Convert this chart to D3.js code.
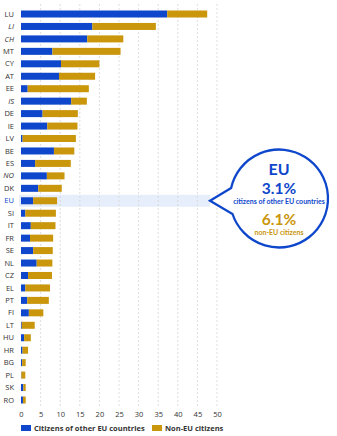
<!DOCTYPE html>
<html><head><meta charset="utf-8">
<script src="https://cdn.jsdelivr.net/npm/d3@7"></script>
<style>html,body{margin:0;padding:0;background:#fff;}svg{display:block;font-family:"Open Sans",sans-serif;}</style>
</head><body>
<svg id="c" width="337" height="436"></svg>
<script>
const countries = ["LU","LI","CH","MT","CY","AT","EE","IS","DE","IE","LV","BE","ES","NO","DK","EU","SI","IT","FR","SE","NL","CZ","EL","PT","FI","LT","HU","HR","BG","PL","SK","RO"];
const euCitizens = [37.3,18.2,16.9,8.0,10.2,9.7,1.7,12.8,5.5,6.7,0.4,8.4,3.6,6.6,4.4,3.1,1.1,2.5,2.3,3.1,4.0,1.8,1.1,1.6,2.0,0.2,0.8,0.4,0.3,0.1,0.6,0.5];
const nonEuCitizens = [10.2,16.2,9.2,17.4,9.8,9.2,15.6,4.0,9.0,7.7,13.6,5.2,9.1,4.5,6.0,6.1,7.8,6.3,5.9,5.0,4.0,6.1,6.3,5.5,3.7,3.3,1.7,1.4,0.9,1.0,0.6,0.7];
const nonEuMembers = ["LI","CH","IS","NO"];
const xTicks = [0,5,10,15,20,25,30,35,40,45,50];
const seriesNames = ["Citizens of other EU countries","Non-EU citizens"];
const calloutTitle = "EU";
const calloutValues = ["3.1%","6.1%"];
const calloutLabels = ["citizens of other EU countries","non-EU citizens"];

const BLUE = "#0e47cb", GOLD = "#c9960c";
const svg = d3.select("#c");
const x = d3.scaleLinear().domain([0,50]).range([21,217]);
const y = d3.scalePoint().domain(countries).range([14,400]);
const bh = 7;

// EU highlight band
svg.append("rect").attr("x",19).attr("y",y("EU")-6).attr("width",210-19).attr("height",12).attr("fill","#e6eefb");

// gridlines
svg.append("g").selectAll("line").data(xTicks.filter(d=>d>0)).join("line")
  .attr("x1",d=>x(d)).attr("x2",d=>x(d)).attr("y1",4).attr("y2",408)
  .attr("stroke","#d4d4d4").attr("stroke-width",0.8).attr("stroke-dasharray","2,2");

// bars
const rows = countries.map((c,i)=>({c, a:euCitizens[i], b:nonEuCitizens[i]}));
svg.append("g").selectAll("rect").data(rows).join("rect")
  .attr("x",d=>x(0)).attr("y",d=>y(d.c)-bh/2).attr("width",d=>x(d.a)-x(0)).attr("height",bh).attr("fill",BLUE);
svg.append("g").selectAll("rect").data(rows).join("rect")
  .attr("x",d=>x(d.a)).attr("y",d=>y(d.c)-bh/2).attr("width",d=>x(d.a+d.b)-x(d.a)).attr("height",bh).attr("fill",GOLD);

// y labels
svg.append("g").selectAll("text").data(countries).join("text")
  .attr("x",14).attr("y",d=>y(d)).attr("dy","0.35em").attr("text-anchor","end")
  .attr("font-size",7.5).attr("fill",d=>d==="EU"?BLUE:"#333")
  .attr("font-style",d=>nonEuMembers.includes(d)?"italic":"normal")
  .text(d=>d);

// x axis
const ax = svg.append("g").attr("transform","translate(0,410)")
  .call(d3.axisBottom(x).tickValues(xTicks).tickSize(0).tickPadding(2));
ax.select(".domain").remove();
ax.selectAll("text").attr("font-size",7.5).attr("fill","#333").attr("font-family","Open Sans, sans-serif");

// legend
const leg = svg.append("g");
const legX = [21,152];
[BLUE,GOLD].forEach((col,i)=>{
  leg.append("rect").attr("x",legX[i]).attr("y",425).attr("width",10).attr("height",6).attr("fill",col);
  leg.append("text").attr("x",legX[i]+13).attr("y",428).attr("dy","0.35em").attr("font-size",7.5)
    .attr("font-weight","bold").attr("fill","#333").text(seriesNames[i]);
});

// callout bubble
const cx=279, cy=198.5, r=49;
const a1 = Math.atan2(188-cy, -Math.sqrt(r*r-(188-cy)**2));
const a2 = Math.atan2(214-cy, -Math.sqrt(r*r-(214-cy)**2));
const p = d3.path();
p.moveTo(cx+r*Math.cos(a1), cy+r*Math.sin(a1));
p.arc(cx,cy,r,a1,a2,false);
p.lineTo(210,y("EU"));
p.closePath();
svg.append("path").attr("d",p.toString()).attr("fill","#fff").attr("stroke",BLUE).attr("stroke-width",2.3).attr("stroke-linejoin","miter");

const tg = svg.append("g").attr("text-anchor","middle").attr("font-weight","bold").attr("font-family","Lato, sans-serif");
tg.append("text").attr("x",cx).attr("y",169.5).attr("dy","0.35em").attr("font-size",16).attr("fill",BLUE).text(calloutTitle);
tg.append("text").attr("x",cx).attr("y",188.5).attr("dy","0.35em").attr("font-size",15.5).attr("fill",BLUE).text(calloutValues[0]);
tg.append("text").attr("x",cx).attr("y",201.5).attr("dy","0.35em").attr("font-size",7).attr("fill",BLUE).text(calloutLabels[0]);
tg.append("text").attr("x",cx).attr("y",219.5).attr("dy","0.35em").attr("font-size",15.5).attr("fill",GOLD).text(calloutValues[1]);
tg.append("text").attr("x",cx).attr("y",232.5).attr("dy","0.35em").attr("font-size",7).attr("fill",GOLD).text(calloutLabels[1]);
</script>
</body></html>
